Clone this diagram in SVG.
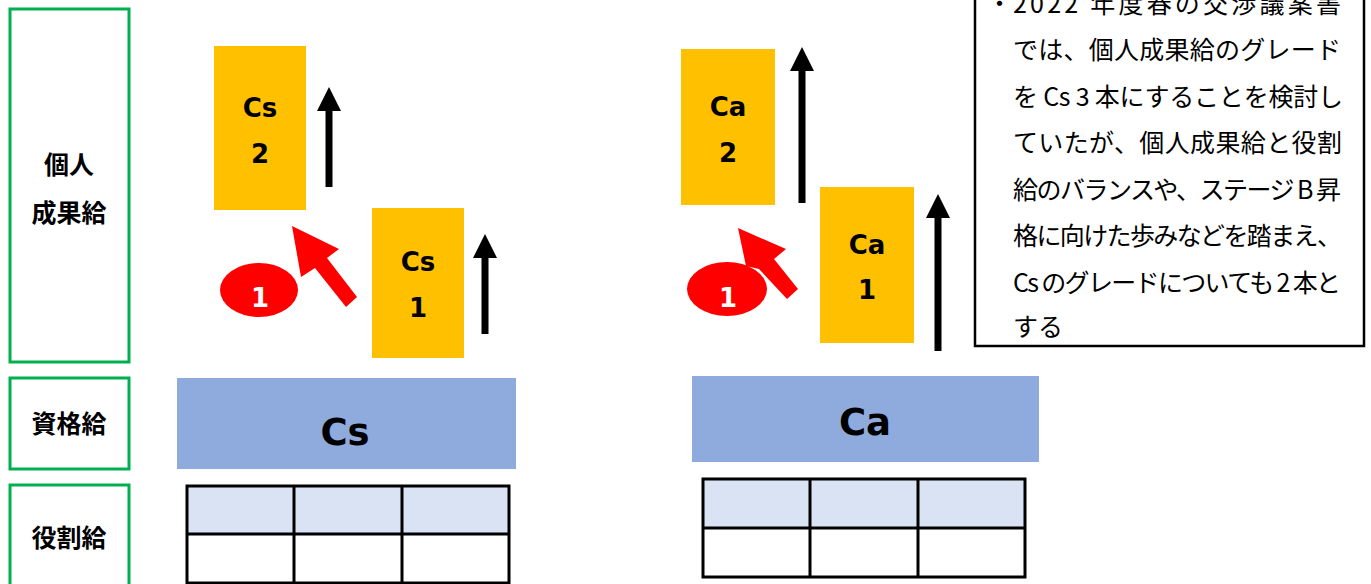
<svg xmlns="http://www.w3.org/2000/svg" width="1371" height="584" viewBox="0 0 1371 584">
<style>
.gbox{fill:#fff;stroke:#00B050;stroke-width:3}
.glab{font-family:"Noto Sans CJK JP","Noto Sans CJK SC",sans-serif;font-weight:bold;font-size:25px;fill:#000;text-anchor:middle}
.grade{fill:#FFC000}
.gt{font-family:"DejaVu Sans","Noto Sans",sans-serif;font-weight:bold;font-size:26px;fill:#000;text-anchor:middle}
.base{fill:#8FAADC}
.bt{font-family:"DejaVu Sans","Noto Sans",sans-serif;font-weight:bold;font-size:37px;fill:#000;text-anchor:middle}
.hd{fill:#DAE3F3}
.tbl{fill:none;stroke:#000;stroke-width:3}
.red{fill:#FF0000}
.rt{font-family:"DejaVu Sans",sans-serif;font-weight:bold;font-size:26px;fill:#fff;text-anchor:middle}
.up{stroke:#000;stroke-width:7;fill:none;marker-end:url(#ah)}
.note{font-family:"Noto Sans CJK JP","Noto Sans CJK SC",sans-serif;font-size:25px;fill:#000}
</style>
<defs>
<marker id="ah" markerUnits="userSpaceOnUse" markerWidth="24" markerHeight="24" viewBox="0 0 24 24" refX="0" refY="12" orient="auto">
<path d="M0,0 L24,12 L0,24 z" fill="#000"/>
</marker>
</defs>
<rect width="1371" height="584" fill="#fff"/>

<g id="label-kojin">
<rect class="gbox" x="10" y="9" width="119" height="353"/>
<text class="glab" x="69" y="174">個人</text>
<text class="glab" x="69" y="222">成果給</text>
</g>
<g id="label-shikaku">
<rect class="gbox" x="10" y="378" width="119" height="91"/>
<text class="glab" x="69" y="433">資格給</text>
</g>
<g id="label-yakuwari">
<rect class="gbox" x="10" y="485" width="119" height="120"/>
<text class="glab" x="69" y="547">役割給</text>
</g>

<g id="cs2">
<rect class="grade" x="214" y="46" width="92" height="164"/>
<text class="gt" x="260" y="117">Cs</text>
<text class="gt" x="260" y="163">2</text>
</g>
<g id="cs1">
<rect class="grade" x="372" y="208" width="92" height="150"/>
<text class="gt" x="418" y="271">Cs</text>
<text class="gt" x="418" y="317">1</text>
</g>
<g id="cs-base">
<rect class="base" x="177" y="378" width="339" height="91"/>
<text class="bt" x="345" y="445">Cs</text>
</g>
<g id="cs-table">
<rect class="hd" x="187" y="486" width="322" height="48"/>
<rect class="tbl" x="187" y="486" width="322" height="97"/>
<line class="tbl" x1="187" y1="534" x2="509" y2="534"/>
<line class="tbl" x1="294" y1="486" x2="294" y2="583"/>
<line class="tbl" x1="402" y1="486" x2="402" y2="583"/>
</g>
<g id="cs-badge">
<ellipse class="red" cx="259" cy="290" rx="39" ry="27"/>
<text class="rt" x="260" y="307">1</text>
</g>

<g id="ca2">
<rect class="grade" x="681" y="49" width="94" height="156"/>
<text class="gt" x="728" y="116">Ca</text>
<text class="gt" x="728" y="162">2</text>
</g>
<g id="ca1">
<rect class="grade" x="820" y="187" width="94" height="156"/>
<text class="gt" x="867" y="254">Ca</text>
<text class="gt" x="867" y="299">1</text>
</g>
<g id="ca-base">
<rect class="base" x="692" y="376" width="347" height="86"/>
<text class="bt" x="865" y="435">Ca</text>
</g>
<g id="ca-table">
<rect class="hd" x="703" y="479" width="322" height="49"/>
<rect class="tbl" x="703" y="479" width="322" height="98"/>
<line class="tbl" x1="703" y1="528" x2="1025" y2="528"/>
<line class="tbl" x1="810" y1="479" x2="810" y2="577"/>
<line class="tbl" x1="918" y1="479" x2="918" y2="577"/>
</g>
<g id="ca-badge">
<ellipse class="red" cx="727" cy="289" rx="40" ry="27"/>
<text class="rt" x="728" y="307">1</text>
</g>

<g id="connectors">
<line class="up" x1="329" y1="187" x2="329" y2="111"/>
<line class="up" x1="485" y1="334" x2="485" y2="258"/>
<line class="up" x1="802" y1="203" x2="802" y2="71"/>
<line class="up" x1="938" y1="351" x2="938" y2="218"/>
<polygon class="red" points="292,226 339,249 327,258 357,297 346,307 315,268 301,277"/>
<polygon class="red" points="738,228 786,249 774,259 798,289 787,299 759,269 746,266"/>
</g>

<g id="note">
<rect x="975" y="-10" width="389" height="356" fill="#fff" stroke="#000" stroke-width="2.5"/>
<text class="note" y="13"><tspan x="987">・</tspan><tspan x="1013" textLength="328" lengthAdjust="spacing">2022 年度春の交渉議案書</tspan></text>
<text class="note" x="1013" y="59" textLength="328" lengthAdjust="spacing">では、個人成果給のグレード</text>
<text class="note" x="1013" y="106" textLength="330" lengthAdjust="spacing">を  Cs 3 本にすることを検討し</text>
<text class="note" x="1013" y="152" textLength="329" lengthAdjust="spacing">ていたが、個人成果給と役割</text>
<text class="note" x="1013" y="199" textLength="328" lengthAdjust="spacing">給のバランスや、ステージ B 昇</text>
<text class="note" x="1013" y="245" textLength="329" lengthAdjust="spacing">格に向けた歩みなどを踏まえ、</text>
<text class="note" x="1013" y="292" textLength="328" lengthAdjust="spacing">Cs のグレードについても 2 本と</text>
<text class="note" x="1013" y="336">する</text>
</g>
</svg>
